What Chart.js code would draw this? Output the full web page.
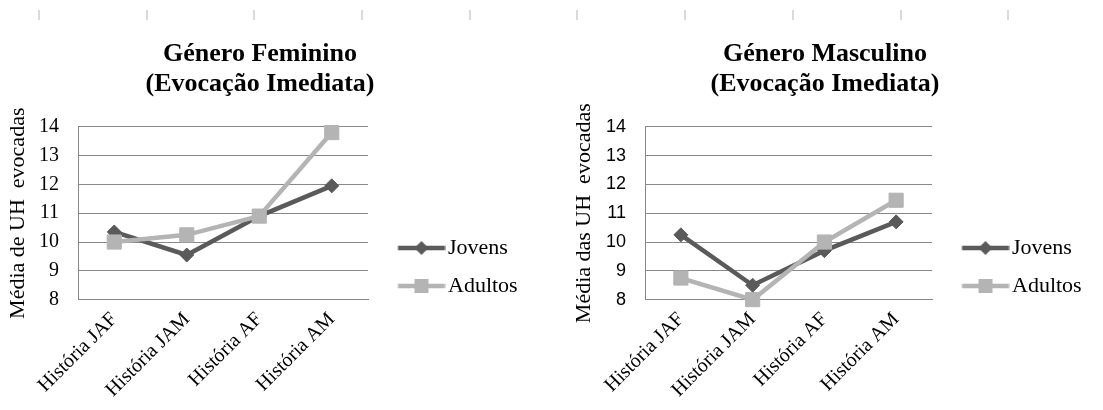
<!DOCTYPE html>
<html lang="pt">
<head>
<meta charset="utf-8">
<title>Evocação Imediata</title>
<script src="https://cdn.jsdelivr.net/npm/chart.js@4.4.0/dist/chart.umd.min.js"></script>
<style>
  html, body { margin: 0; padding: 0; background: #fff; }
  body { width: 1103px; height: 410px; position: relative; overflow: hidden; }
  /* régua cinzenta no topo */
  .regua { position: absolute; left: 38px; top: 10px; width: 1012px; height: 10px;
    background: repeating-linear-gradient(to right, #dadada 0 2px, transparent 2px 107.7px); }
  .caixa { position: absolute; top: 0; height: 410px; }
  #caixaFeminino { left: 0; width: 520px; }
  #caixaMasculino { left: 560px; width: 524px; }
</style>
</head>
<body>
<div class="regua"></div>
<div class="caixa" id="caixaFeminino"><canvas id="graficoFeminino"></canvas></div>
<div class="caixa" id="caixaMasculino"><canvas id="graficoMasculino"></canvas></div>

<script>
// Dados
const historias = ['História JAF', 'História JAM', 'História AF', 'História AM'];
const series = ['Jovens', 'Adultos'];
const femininoJovens = [10.35, 9.55, 10.9, 11.95];
const femininoAdultos = [10.0, 10.25, 10.9, 13.8];
const masculinoJovens = [10.25, 8.5, 9.7, 10.7];
const masculinoAdultos = [8.75, 8.0, 10.0, 11.45];
const yMin = 8;
const yMax = 14;

const corJovens = '#5a5a5a';
const corAdultos = '#b4b4b4';
const corGrelha = '#888888';
const serif = 'Liberation Serif';

// Imagem da legenda: linha com o marcador no meio
function imagemLegenda(cor, estilo) {
    const c = document.createElement('canvas');
    c.width = 70; c.height = 18;
    const g = c.getContext('2d');
    g.strokeStyle = cor;
    g.fillStyle = cor;
    g.lineWidth = 4.5;
    g.beginPath(); g.moveTo(22.5, 9); g.lineTo(69.5, 9); g.stroke();
    const cx = 46;
    g.beginPath();
    if (estilo === 'rectRot') {
        g.moveTo(cx - 7, 9); g.lineTo(cx, 2); g.lineTo(cx + 7, 9); g.lineTo(cx, 16);
    } else {
        g.rect(cx - 7, 2, 14, 14);
    }
    g.fill();
    return c;
}
const imagens = [imagemLegenda(corJovens, 'rectRot'), imagemLegenda(corAdultos, 'rect')];

function criarGrafico(id, titulo, tituloY, jovens, adultos, fonteTicks, padLayout, padTitulo) {
    const ctx = document.getElementById(id).getContext('2d');
    return new Chart(ctx, {
        type: 'line',
        data: {
            labels: historias,
            datasets: [
                {
                    label: series[0], data: jovens, order: 1, clip: false,
                    borderColor: corJovens, backgroundColor: corJovens, borderWidth: 4.5,
                    pointStyle: 'rectRot', pointRadius: 7, pointBorderWidth: 1, tension: 0
                },
                {
                    label: series[1], data: adultos, order: 0, clip: false,
                    borderColor: corAdultos, backgroundColor: corAdultos, borderWidth: 4.5,
                    pointStyle: 'rect', pointRadius: 10, pointBorderWidth: 1, tension: 0
                }
            ]
        },
        options: {
            responsive: true,
            maintainAspectRatio: false,
            animation: false,
            events: [],
            layout: { padding: padLayout },
            plugins: {
                title: {
                    display: true, text: titulo, color: '#000',
                    font: { family: serif, size: 26, weight: 'bold', lineHeight: 1.15 },
                    padding: { top: 39, bottom: 28 }
                },
                legend: {
                    position: 'right', align: 'center', maxWidth: 152,
                    // título vazio só para baixar a legenda
                    title: { display: true, text: '', font: { size: 10, lineHeight: 1 }, padding: { top: 114, bottom: 0 } },
                    labels: {
                        usePointStyle: true, pointStyleWidth: 53, padding: 16, color: '#000',
                        font: { family: serif, size: 22 },
                        sort: (a, b) => a.datasetIndex - b.datasetIndex,
                        generateLabels: (chart) => Chart.defaults.plugins.legend.labels.generateLabels(chart)
                            .map(item => Object.assign(item, { pointStyle: imagens[item.datasetIndex] }))
                    }
                },
                tooltip: { enabled: false }
            },
            scales: {
                x: {
                    offset: true,
                    grid: { color: 'rgba(0,0,0,0)', drawTicks: false },
                    border: { display: true, color: corGrelha },
                    ticks: {
                        minRotation: 45, maxRotation: 45, padding: 8, color: '#000',
                        font: { family: serif, size: 20 }
                    }
                },
                y: {
                    min: yMin, max: yMax,
                    grid: { color: corGrelha, drawTicks: false },
                    border: { display: true, color: corGrelha },
                    ticks: { stepSize: 1, padding: 19, color: '#000', font: fonteTicks },
                    title: {
                        display: true, text: tituloY, color: '#000',
                        font: { family: serif, size: 22 },
                        padding: padTitulo
                    }
                }
            }
        }
    });
}

criarGrafico('graficoFeminino', ['Género Feminino', '(Evocação Imediata)'], 'Média de UH  evocadas',
    femininoJovens, femininoAdultos, { family: serif, size: 20 },
    { left: 0, right: 0, top: 0, bottom: 0 }, { top: 4.8, bottom: -11.2 });
criarGrafico('graficoMasculino', ['Género Masculino', '(Evocação Imediata)'], 'Média das UH  evocadas',
    masculinoJovens, masculinoAdultos, { family: 'Liberation Sans', size: 18 },
    { left: 6, right: 0, top: 0, bottom: 0 }, { top: 4.8, bottom: -10.2 });
</script>
</body>
</html>
